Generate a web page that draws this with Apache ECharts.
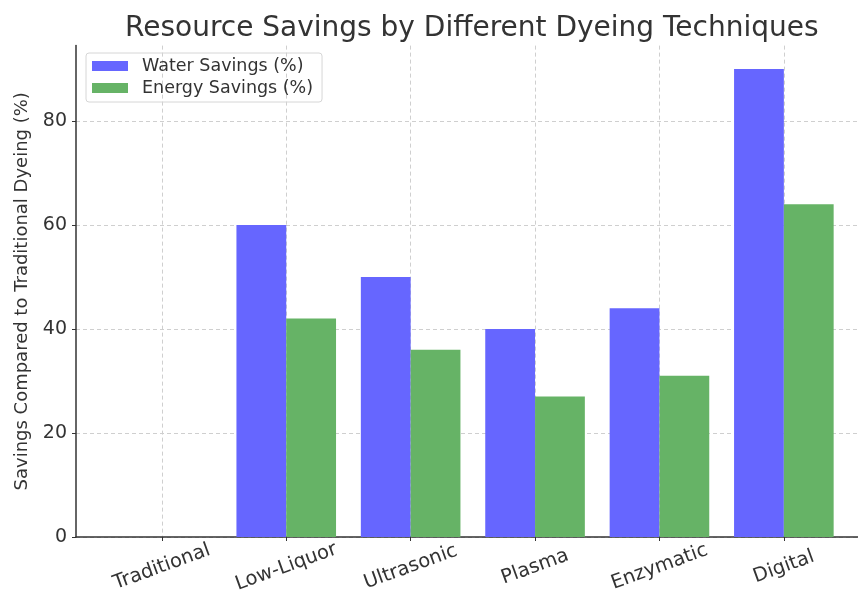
<!DOCTYPE html>
<html>
<head>
<meta charset="utf-8">
<script src="https://cdn.jsdelivr.net/npm/echarts@6/dist/echarts.min.js"></script>
<style>
  html, body { margin: 0; padding: 0; background: #fff; }
  #main { width: 858px; height: 598px; }
</style>
</head>
<body>
<div id="main"></div>
<script>
  // techniques and savings
  var techniques = ['Traditional', 'Low-Liquor', 'Ultrasonic', 'Plasma', 'Enzymatic', 'Digital'];
  var waterSavings = [0, 60, 50, 40, 44, 90];
  var energySavings = [0, 42, 36, 27, 31, 64];
  var yTicks = [0, 20, 40, 60, 80];

  var positions = techniques.map(function (t, i) { return i; });
  function pairs(vals) {
    return vals.map(function (v, i) { return [i, v]; });
  }

  var font = 'DejaVu Sans';
  var chart = echarts.init(document.getElementById('main'));

  var option = {
    backgroundColor: '#fff',
    animation: false,
    title: {
      text: 'Resource Savings by Different Dyeing Techniques',
      left: 120,
      top: 10,
      textStyle: {fontFamily: font, fontSize: 28, fontWeight: 'normal', color: '#333'}
    },
    legend: {
      data: ['Water Savings (%)', 'Energy Savings (%)'],
      orient: 'vertical',
      left: 86,
      top: 53,
      itemWidth: 36,
      itemHeight: 10,
      itemGap: 4,
      padding: [4, 9, 5, 6],
      borderColor: '#d6d6d6',
      borderWidth: 1,
      borderRadius: 3,
      icon: 'rect',
      textStyle: {fontFamily: font, fontSize: 17.5, color: '#333', padding: [0, 0, 0, 9]}
    },
    grid: {
      left: 76,
      right: 0,
      top: 45.6,
      bottom: 61
    },
    xAxis: {
      type: 'value',
      min: -0.69,
      max: 5.596,
      axisLine: {show: true, onZero: false, lineStyle: {color: '#333', width: 1.5}},
      axisTick: {show: true, customValues: positions, length: 4, lineStyle: {color: '#333'}},
      axisLabel: {
        customValues: positions,
        formatter: function (v) { return techniques[Math.round(v)]; },
        rotate: 20,
        align: 'center',
        verticalAlign: 'middle',
        margin: 30,
        fontFamily: font,
        fontSize: 19.5,
        color: '#333'
      },
      splitLine: {show: true, lineStyle: {color: '#cfcfcf', type: [4, 3], width: 1}}
    },
    yAxis: {
      type: 'value',
      min: 0,
      max: 94.5,
      name: 'Savings Compared to Traditional Dyeing (%)',
      nameLocation: 'middle',
      nameRotate: 90,
      nameGap: 45,
      nameTextStyle: {fontFamily: font, fontSize: 18, color: '#333'},
      axisLine: {show: true, onZero: false, lineStyle: {color: '#333', width: 1.5}},
      axisTick: {show: true, customValues: yTicks, length: 4, lineStyle: {color: '#333'}},
      axisLabel: {customValues: yTicks, margin: 9, fontFamily: font, fontSize: 19, color: '#333'},
      splitLine: {show: true, lineStyle: {color: '#cfcfcf', type: [4, 3], width: 1}}
    },
    series: [{
      name: 'Water Savings (%)',
      type: 'bar',
      barWidth: 49.8,
      barGap: '0%',
      itemStyle: {color: '#6666ff'},
      data: pairs(waterSavings)
    }, {
      name: 'Energy Savings (%)',
      type: 'bar',
      barWidth: 49.8,
      barGap: '0%',
      itemStyle: {color: '#66b366'},
      data: pairs(energySavings)
    }]
  };

  chart.setOption(option);
</script>
</body>
</html>
